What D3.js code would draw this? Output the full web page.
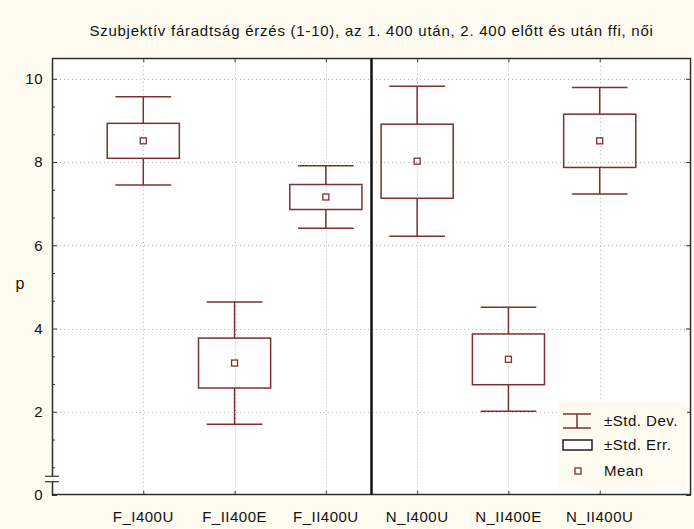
<!DOCTYPE html>
<html>
<head>
<meta charset="utf-8">
<script src="https://cdn.jsdelivr.net/npm/d3@7"></script>
<style>
  html, body { margin: 0; padding: 0; background: #fefbf0; }
  svg { display: block; }
  text { font-family: "Liberation Sans", Arial, sans-serif; fill: #111; }
</style>
</head>
<body>
<svg id="chart" width="694" height="529"></svg>
<script>
// Groups and their summary statistics
const categories = ["F_I400U", "F_II400E", "F_II400U", "N_I400U", "N_II400E", "N_II400U"];
const means   = [8.51, 3.17, 7.16, 8.02, 3.26, 8.51];
const stdErrs = [0.42, 0.60, 0.30, 0.89, 0.61, 0.64];
const stdDevs = [1.06, 1.47, 0.75, 1.80, 1.25, 1.28];
const yTicks = [0, 2, 4, 6, 8, 10];
const legendLabels = ["±Std. Dev.", "±Std. Err.", "Mean"];
const titleText = "Szubjektív fáradtság érzés (1-10), az 1. 400 után, 2. 400 előtt és után ffi, női";
const yLabel = "p";

const W = 694, H = 529;
const margin = { left: 52, right: 3, top: 58, bottom: 34 };
const plotL = margin.left, plotR = W - margin.right, plotT = margin.top, plotB = H - margin.bottom;
const boxColor = "#7e2f2f";
const fontSize = 15;
const spacing = 0.5;

const svg = d3.select("#chart");

// x positions: categories sit at 1..n on a 0..n+1 linear domain
const x = d3.scaleLinear().domain([0, categories.length + 1]).range([plotL, plotR]);
const y = d3.scaleLinear().domain([0, 10.5]).range([plotB, plotT]);

const step = x(1) - x(0);

// plot background
svg.append("rect").attr("x", plotL).attr("y", plotT)
  .attr("width", plotR - plotL).attr("height", plotB - plotT).attr("fill", "#ffffff");

// grid lines
const grid = svg.append("g").attr("stroke", "#b8b8b8").attr("stroke-dasharray", "1,3").attr("stroke-width", 1);
yTicks.filter(v => v > 0).forEach(v => {
  grid.append("line").attr("x1", plotL).attr("x2", plotR)
    .attr("y1", Math.round(y(v)) + 0.5).attr("y2", Math.round(y(v)) + 0.5);
});
categories.forEach((c, i) => {
  grid.append("line").attr("y1", plotT).attr("y2", plotB)
    .attr("x1", Math.round(x(i + 1)) + 0.5).attr("x2", Math.round(x(i + 1)) + 0.5);
});

// axes drawn with inward ticks
const yAxisL = d3.axisRight(y).tickValues(yTicks).tickSize(5).tickFormat("");
const yAxisR = d3.axisLeft(y).tickValues(yTicks).tickSize(5).tickFormat("");
const minorVals = d3.range(0, 10.01, 2 / 3).filter(v => Math.abs(v / 2 - Math.round(v / 2)) > 0.01 && v > 0.6);
const yMinorL = d3.axisRight(y).tickValues(minorVals).tickSize(3).tickFormat("");
const xTickVals = categories.map((c, i) => i + 1);
const xAxisB = d3.axisTop(x).tickValues(xTickVals).tickSize(4).tickFormat("");
const xAxisT = d3.axisBottom(x).tickValues(xTickVals).tickSize(4).tickFormat("");

function styleAxis(g) {
  g.select(".domain").remove();
  g.selectAll("line").attr("stroke", "#333").attr("stroke-width", 1);
}
svg.append("g").attr("transform", `translate(${plotL},0)`).call(yAxisL).call(styleAxis);
svg.append("g").attr("transform", `translate(${plotL},0)`).call(yMinorL).call(styleAxis);
svg.append("g").attr("transform", `translate(${plotR},0)`).call(yAxisR).call(styleAxis);
svg.append("g").attr("transform", `translate(0,${plotB})`).call(xAxisB).call(styleAxis);
svg.append("g").attr("transform", `translate(0,${plotT})`).call(xAxisT).call(styleAxis);

// frame
svg.append("rect").attr("x", plotL + 0.5).attr("y", plotT + 0.5)
  .attr("width", plotR - plotL - 1).attr("height", plotB - plotT - 1)
  .attr("fill", "none").attr("stroke", "#2e2e2e").attr("stroke-width", 1.5);

// axis break near the origin
const breakHi = 0.45, breakLo = 0.32;
svg.append("rect").attr("x", plotL - 1.5).attr("y", y(breakHi)).attr("width", 3)
  .attr("height", y(breakLo) - y(breakHi)).attr("fill", "#fefbf0");
[breakHi, breakLo].forEach(v => {
  svg.append("line").attr("x1", plotL - 7).attr("x2", plotL + 7)
    .attr("y1", y(v)).attr("y2", y(v)).attr("stroke", "#333").attr("stroke-width", 1.2);
});

// divider between the two groups
svg.append("line").attr("x1", x(3.5)).attr("x2", x(3.5)).attr("y1", plotT).attr("y2", plotB)
  .attr("stroke", "#1a1a1a").attr("stroke-width", 2.6);

// box plots
const capW = step * 0.61, boxW = step * 0.79, meanS = 6;
const boxes = svg.append("g").attr("stroke", boxColor).attr("stroke-width", 1.5).attr("fill", "none");
categories.forEach((c, i) => {
  const cx = x(i + 1);
  const m = means[i], se = stdErrs[i], sd = stdDevs[i];
  const g = boxes.append("g");
  // whiskers
  g.append("line").attr("x1", cx).attr("x2", cx).attr("y1", y(m + sd)).attr("y2", y(m + se));
  g.append("line").attr("x1", cx).attr("x2", cx).attr("y1", y(m - se)).attr("y2", y(m - sd));
  g.append("line").attr("x1", cx - capW / 2).attr("x2", cx + capW / 2).attr("y1", y(m + sd)).attr("y2", y(m + sd));
  g.append("line").attr("x1", cx - capW / 2).attr("x2", cx + capW / 2).attr("y1", y(m - sd)).attr("y2", y(m - sd));
  // standard error box
  g.append("rect").attr("x", cx - boxW / 2).attr("y", y(m + se))
    .attr("width", boxW).attr("height", y(m - se) - y(m + se));
  // mean marker
  g.append("rect").attr("x", cx - meanS / 2).attr("y", y(m) - meanS / 2)
    .attr("width", meanS).attr("height", meanS).attr("stroke-width", 1.3);
});

// tick labels
svg.append("g").selectAll("text").data(yTicks).join("text")
  .attr("x", plotL - 9).attr("y", d => y(d)).attr("dy", "0.35em")
  .attr("text-anchor", "end").attr("font-size", fontSize).attr("letter-spacing", spacing).text(d => d);
svg.append("g").selectAll("text").data(categories).join("text")
  .attr("x", (d, i) => x(i + 1)).attr("y", plotB + 27)
  .attr("text-anchor", "middle").attr("font-size", fontSize).attr("letter-spacing", spacing).text(d => d);

// axis title and chart title
svg.append("text").attr("x", 20).attr("y", 283).attr("text-anchor", "middle")
  .attr("dy", "0.35em").attr("font-size", 16).text(yLabel);
svg.append("text").attr("x", (plotL + plotR) / 2).attr("y", 36).attr("text-anchor", "middle")
  .attr("font-size", fontSize).attr("letter-spacing", 0.75).text(titleText);

// legend
const lg = svg.append("g").attr("transform", "translate(557,401)");
lg.append("rect").attr("width", 130).attr("height", 87).attr("fill", "#fefbf0");
const rowY = [20, 44, 70];
// std dev symbol
lg.append("g").attr("stroke", boxColor).attr("stroke-width", 1.5).call(s => {
  s.append("line").attr("x1", 6).attr("x2", 34).attr("y1", rowY[0] - 7).attr("y2", rowY[0] - 7);
  s.append("line").attr("x1", 6).attr("x2", 34).attr("y1", rowY[0] + 7).attr("y2", rowY[0] + 7);
  s.append("line").attr("x1", 20).attr("x2", 20).attr("y1", rowY[0] - 7).attr("y2", rowY[0] + 7);
});
// std err symbol
lg.append("rect").attr("x", 6).attr("y", rowY[1] - 5).attr("width", 29).attr("height", 10)
  .attr("fill", "#ffffff").attr("stroke", "#111").attr("stroke-width", 1.4);
// mean symbol
lg.append("rect").attr("x", 18).attr("y", rowY[2] - 3).attr("width", 6).attr("height", 6)
  .attr("fill", "none").attr("stroke", boxColor).attr("stroke-width", 1.3);
lg.selectAll("text.lbl").data(legendLabels).join("text").attr("class", "lbl")
  .attr("x", 47).attr("y", (d, i) => rowY[i]).attr("dy", "0.35em")
  .attr("font-size", fontSize).attr("letter-spacing", spacing).text(d => d);
</script>
</body>
</html>
